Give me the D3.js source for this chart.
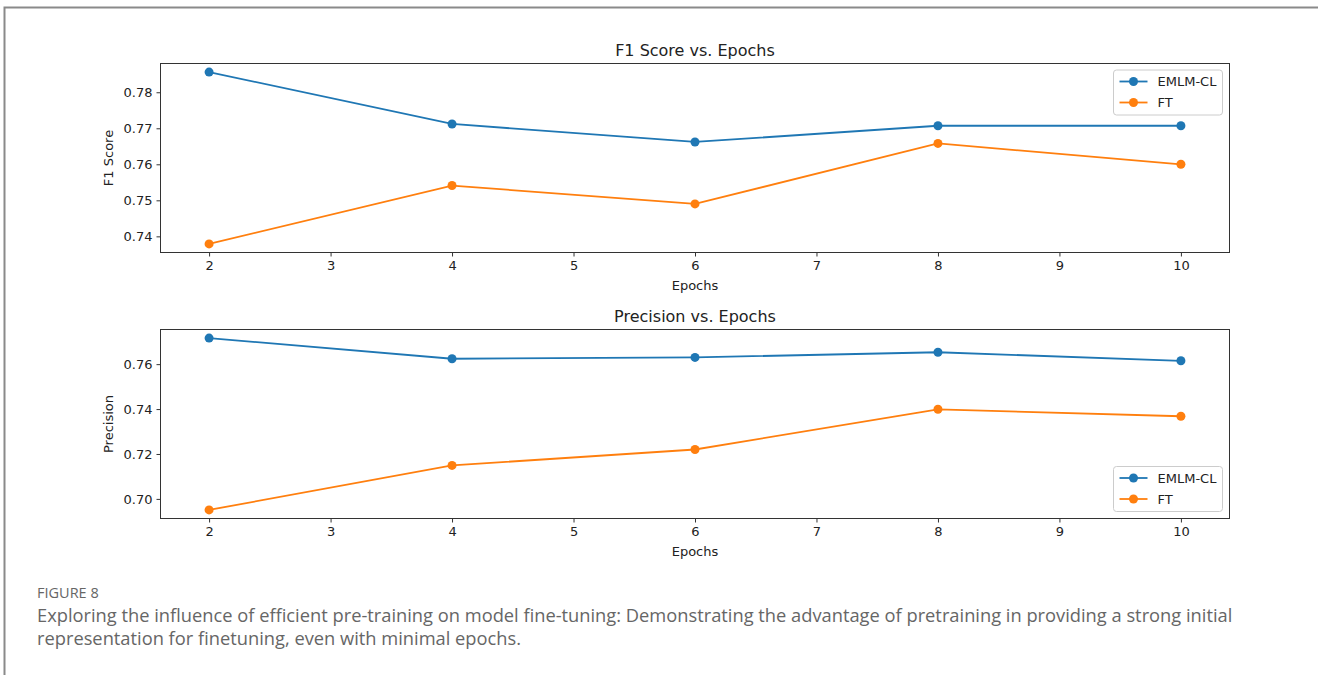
<!DOCTYPE html>
<html>
<head>
<meta charset="utf-8">
<script src="https://cdn.jsdelivr.net/npm/d3@7"></script>
<style>
  body { margin: 0; background: #fff; }
</style>
</head>
<body>
<div id="root"></div>
<script>
// data
var epochs = [2, 4, 6, 8, 10];
var xTicks = [2, 3, 4, 5, 6, 7, 8, 9, 10];
var f1Emlm = [0.7856, 0.7712, 0.7662, 0.7707, 0.7707];
var f1Ft = [0.7379, 0.7541, 0.7490, 0.7658, 0.7600];
var precEmlm = [0.7716, 0.7624, 0.7630, 0.7653, 0.7615];
var precFt = [0.6951, 0.7149, 0.7220, 0.7399, 0.7368];
var f1Ticks = [0.74, 0.75, 0.76, 0.77, 0.78];
var precTicks = [0.70, 0.72, 0.74, 0.76];
var seriesNames = ["EMLM-CL", "FT"];
var colors = ["#1f77b4", "#ff7f0e"];

var W = 1318, H = 675;
var svg = d3.select("#root").append("svg")
    .attr("width", W)
    .attr("height", H)
    .style("display", "block");

// outer frame (only top and left visible)
svg.append("path")
    .attr("d", "M4.5," + H + "V7.5H" + W)
    .attr("fill", "none")
    .attr("stroke", "#8a8a8a")
    .attr("stroke-width", 2);

var font = "DejaVu Sans, sans-serif";
var x = d3.scaleLinear().domain([1.6, 10.4]).range([160.5, 1229.5]);

function panel(opts)
{
    var all = opts.a.concat(opts.b);
    var lo = d3.min(all), hi = d3.max(all), pad = (hi - lo) * 0.05;
    var y = d3.scaleLinear().domain([lo - pad, hi + pad]).range([opts.bottom, opts.top]);

    var g = svg.append("g");

    // x axis
    var xa = g.append("g")
        .attr("transform", "translate(0," + opts.bottom + ")")
        .call(d3.axisBottom(x).tickValues(xTicks).tickSize(4).tickPadding(4).tickFormat(d3.format("d")));
    // y axis
    var ya = g.append("g")
        .attr("transform", "translate(160.5,0)")
        .call(d3.axisLeft(y).tickValues(opts.ticks).tickSize(4).tickPadding(4).tickFormat(d3.format(".2f")));
    [xa, ya].forEach(function (a)
    {
        a.select(".domain").remove();
        a.selectAll("line").attr("stroke", "#333");
        a.selectAll("text").attr("font-family", font).attr("font-size", 13).attr("fill", "#222");
    });

    // frame
    g.append("rect")
        .attr("x", 160.5).attr("y", opts.top)
        .attr("width", 1069).attr("height", opts.bottom - opts.top)
        .attr("fill", "none").attr("stroke", "#333").attr("stroke-width", 1);

    var line = d3.line()
        .x(function (d, i) { return x(epochs[i]); })
        .y(function (d) { return y(d); });

    [opts.a, opts.b].forEach(function (s, k)
    {
        g.append("path")
            .datum(s)
            .attr("fill", "none")
            .attr("stroke", colors[k])
            .attr("stroke-width", 1.8)
            .attr("d", line);
        g.selectAll(".pt" + k)
            .data(s)
            .enter().append("circle")
            .attr("cx", function (d, i) { return x(epochs[i]); })
            .attr("cy", function (d) { return y(d); })
            .attr("r", 4.5)
            .attr("fill", colors[k]);
    });

    // title
    g.append("text")
        .attr("x", (160.5 + 1229.5) / 2)
        .attr("y", opts.top - 8)
        .attr("text-anchor", "middle")
        .attr("font-family", font).attr("font-size", 16).attr("fill", "#222")
        .text(opts.title);

    // x label
    g.append("text")
        .attr("x", (160.5 + 1229.5) / 2)
        .attr("y", opts.bottom + 37)
        .attr("text-anchor", "middle")
        .attr("font-family", font).attr("font-size", 13).attr("fill", "#222")
        .text("Epochs");

    // y label
    g.append("text")
        .attr("transform", "translate(113," + ((opts.top + opts.bottom) / 2) + ") rotate(-90)")
        .attr("text-anchor", "middle")
        .attr("font-family", font).attr("font-size", 13).attr("fill", "#222")
        .text(opts.ylabel);

    // legend
    var lg = g.append("g").attr("transform", "translate(1113.5," + opts.legendY + ")");
    lg.append("rect")
        .attr("width", 109).attr("height", 45).attr("rx", 3)
        .attr("fill", "#fff").attr("fill-opacity", 0.8)
        .attr("stroke", "#ccc");
    seriesNames.forEach(function (name, k)
    {
        var cy = 11.5 + k * 21;
        lg.append("line")
            .attr("x1", 6).attr("x2", 34).attr("y1", cy).attr("y2", cy)
            .attr("stroke", colors[k]).attr("stroke-width", 1.8);
        lg.append("circle").attr("cx", 20).attr("cy", cy).attr("r", 4.5).attr("fill", colors[k]);
        lg.append("text")
            .attr("x", 44).attr("y", cy + 4.5)
            .attr("font-family", font).attr("font-size", 13).attr("fill", "#222")
            .text(name);
    });
}

panel({ a: f1Emlm, b: f1Ft, ticks: f1Ticks, top: 63.5, bottom: 252.5,
        title: "F1 Score vs. Epochs", ylabel: "F1 Score", legendY: 70 });
panel({ a: precEmlm, b: precFt, ticks: precTicks, top: 329.5, bottom: 518.5,
        title: "Precision vs. Epochs", ylabel: "Precision", legendY: 466.5 });

// caption
var cap = svg.append("g").attr("font-family", "Open Sans, sans-serif").attr("fill", "#666");
cap.append("text").attr("x", 37).attr("y", 598).attr("font-size", 14.5).text("FIGURE 8");
cap.append("text").attr("x", 37).attr("y", 622).attr("font-size", 18.3)
    .text("Exploring the influence of efficient pre-training on model fine-tuning: Demonstrating the advantage of pretraining in providing a strong initial");
cap.append("text").attr("x", 37).attr("y", 645).attr("font-size", 18.3)
    .text("representation for finetuning, even with minimal epochs.");
</script>
</body>
</html>
